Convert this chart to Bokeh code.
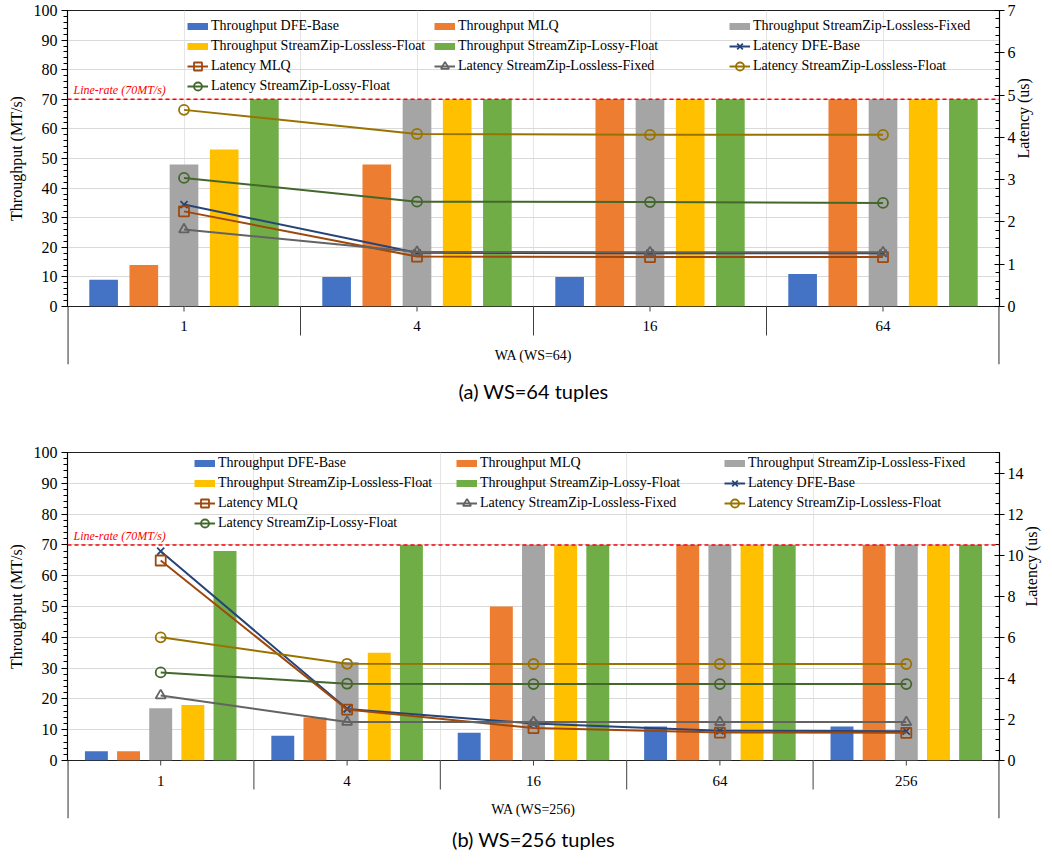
import math
from bokeh.plotting import figure
from bokeh.models import (Range1d, LinearAxis, FixedTicker, Span, Label, Legend,
                          LegendItem, Title)
from bokeh.core.properties import value
from bokeh.layouts import column
from bokeh.embed import file_html
from bokeh.resources import INLINE

# ---------------- data ----------------
series_names = ["DFE-Base", "MLQ", "StreamZip-Lossless-Fixed",
                "StreamZip-Lossless-Float", "StreamZip-Lossy-Float"]

# (a) WS=64
wa_a = ["1", "4", "16", "64"]
thr_a_dfe = [9, 10, 10, 11]
thr_a_mlq = [14, 48, 70, 70]
thr_a_fixed = [48, 70, 70, 70]
thr_a_llfloat = [53, 70, 70, 70]
thr_a_lossy = [70, 70, 70, 70]
lat_a_dfe = [2.41, 1.27, 1.26, 1.26]
lat_a_mlq = [2.25, 1.18, 1.17, 1.17]
lat_a_fixed = [1.82, 1.29, 1.28, 1.28]
lat_a_llfloat = [4.65, 4.08, 4.06, 4.06]
lat_a_lossy = [3.04, 2.48, 2.47, 2.45]

# (b) WS=256
wa_b = ["1", "4", "16", "64", "256"]
thr_b_dfe = [3, 8, 9, 11, 11]
thr_b_mlq = [3, 14, 50, 70, 70]
thr_b_fixed = [17, 32, 70, 70, 70]
thr_b_llfloat = [18, 35, 70, 70, 70]
thr_b_lossy = [68, 70, 70, 70, 70]
lat_b_dfe = [10.19, 2.51, 1.80, 1.45, 1.43]
lat_b_mlq = [9.74, 2.48, 1.58, 1.36, 1.35]
lat_b_fixed = [3.17, 1.88, 1.87, 1.87, 1.87]
lat_b_llfloat = [6.0, 4.71, 4.70, 4.70, 4.70]
lat_b_lossy = [4.29, 3.74, 3.72, 3.72, 3.72]

line_rate = 70

# ---------------- style ----------------
bar_colors = ["#4472C4", "#ED7D31", "#A5A5A5", "#FFC000", "#70AD47"]
line_colors = ["#264478", "#9E480E", "#636363", "#997300", "#43682B"]
markers = ["x", "square", "triangle", "circle", "circle"]
SERIF = "Liberation Serif"
W = 1051
MBL = 67
MBR = 52
SEP_H = 58   # height of the category-label strip below each chart
OVL = 9      # overlap so the "0" tick labels are not cut


def make_chart(wa, thr, lat, lat_max, lat_major, lat_minor,
               frame_h, leg_xs, leg_top, row_h, mbt):
    n = len(wa)
    xr = Range1d(0, n)
    p = figure(width=W, frame_height=frame_h,
               x_range=xr, y_range=Range1d(0, 100),
               x_axis_location=None,
               output_backend="svg", toolbar_location=None,
               min_border_left=MBL, min_border_right=MBR,
               min_border_top=mbt, min_border_bottom=OVL)
    p.extra_y_ranges = {"lat": Range1d(0, lat_max)}
    p.outline_line_color = "#202020"
    p.outline_line_width = 1.2
    p.background_fill_color = "white"
    p.border_fill_color = "white"
    p.ygrid.ticker = FixedTicker(ticks=list(range(10, 101, 10)))
    p.ygrid.grid_line_color = "#D9D9D9"
    p.ygrid.grid_line_width = 1

    cx = [i + 0.5 for i in range(n)]
    pitch = 0.1725
    bw = 0.123

    # bars
    for j in range(5):
        xs = [c + (j - 2) * pitch for c in cx]
        p.vbar(x=xs, top=thr[j], bottom=0, width=bw, fill_color=bar_colors[j],
               line_color=None)

    # latency lines
    lat_renderers = []
    for j in range(5):
        lr = p.line(cx, lat[j], y_range_name="lat", line_color=line_colors[j],
                    line_width=2)
        sr = p.scatter(cx, lat[j], y_range_name="lat", marker=markers[j],
                       size=10, line_color=line_colors[j], fill_color=None,
                       line_width=1.8)
        lat_renderers.append([lr, sr])

    # line-rate
    p.add_layout(Span(location=line_rate, dimension="width", line_color="#FF0000",
                      line_dash="4 3", line_width=1.5))
    p.add_layout(Label(x=0, y=line_rate, x_offset=6, y_offset=2,
                       text="Line-rate (70MT/s)", text_color="#FF0000",
                       text_font=SERIF, text_font_style="italic",
                       text_font_size="12px", text_baseline="bottom"))

    # left axis
    ya = p.yaxis[0]
    ya.ticker = FixedTicker(ticks=list(range(0, 101, 10)),
                            minor_ticks=list(range(0, 101, 2)))
    ya.major_tick_out = 6
    ya.major_tick_in = 0
    ya.minor_tick_out = 4
    ya.minor_tick_in = 0
    ya.axis_line_color = "black"
    ya.major_tick_line_color = "black"
    ya.minor_tick_line_color = "black"
    ya.major_label_text_font = SERIF
    ya.major_label_text_font_size = "16px"
    ya.major_label_text_color = "black"
    ya.major_label_standoff = 4
    ya.axis_label = "Throughput (MT/s)"
    ya.axis_label_text_font = SERIF
    ya.axis_label_text_font_size = "16px"
    ya.axis_label_text_font_style = "normal"
    ya.axis_label_text_color = "black"
    ya.axis_label_standoff = 6

    # right axis
    ra = LinearAxis(y_range_name="lat",
                    ticker=FixedTicker(ticks=lat_major, minor_ticks=lat_minor))
    ra.major_tick_out = 5
    ra.major_tick_in = 5
    ra.minor_tick_out = 0
    ra.minor_tick_in = 4
    ra.axis_line_color = "black"
    ra.major_tick_line_color = "black"
    ra.minor_tick_line_color = "black"
    ra.major_label_text_font = SERIF
    ra.major_label_text_font_size = "16px"
    ra.major_label_text_color = "black"
    ra.major_label_standoff = 3
    ra.axis_label = "Latency (us)"
    ra.axis_label_text_font = SERIF
    ra.axis_label_text_font_size = "16px"
    ra.axis_label_text_font_style = "normal"
    ra.axis_label_text_color = "black"
    ra.axis_label_standoff = 5
    ra.axis_label_orientation = math.pi / 2
    p.add_layout(ra, "right")

    # legend proxies for bars
    bar_proxies = []
    for j in range(5):
        bar_proxies.append(p.line(x=[0], y=[float("nan")], line_color=bar_colors[j],
                                  line_width=7))

    items = []
    for j in range(5):
        items.append(LegendItem(label="Throughput " + series_names[j],
                                renderers=[bar_proxies[j]]))
    for j in range(5):
        items.append(LegendItem(label="Latency " + series_names[j],
                                renderers=lat_renderers[j]))
    for k in range(3):
        col_items = items[k::3]
        nrows = len(col_items)
        y = frame_h - leg_top - nrows * row_h
        leg = Legend(items=col_items, location=(leg_xs[k], y),
                     orientation="vertical", padding=0, margin=0, spacing=0,
                     label_height=row_h, glyph_height=20, glyph_width=21,
                     label_standoff=3, background_fill_alpha=0,
                     border_line_alpha=0, label_text_font=SERIF,
                     label_text_font_size="14px", label_text_color="black")
        p.add_layout(leg)
    return p, xr


def make_category_strip(wa, xr, xlabel, caption, lab_dy, wa_dy, cap_standoff):
    """Multi-level category axis drawn below a chart (Excel style)."""
    n = len(wa)
    q = figure(width=W, frame_height=SEP_H, x_range=xr, y_range=Range1d(0, SEP_H),
               x_axis_location=None, y_axis_location=None,
               output_backend="svg", toolbar_location=None,
               min_border_left=MBL, min_border_right=MBR,
               min_border_top=0, min_border_bottom=0,
               margin=(-OVL, 0, 0, 0))
    q.outline_line_color = None
    q.background_fill_alpha = 0
    q.border_fill_alpha = 0
    q.grid.visible = False
    cx = [i + 0.5 for i in range(n)]
    inner = list(range(1, n))
    # group separators
    q.segment(x0=inner, y0=[SEP_H] * len(inner), x1=inner,
              y1=[SEP_H - 29] * len(inner), line_color="#404040", line_width=1)
    q.segment(x0=[0, n], y0=[SEP_H, SEP_H], x1=[0, n], y1=[0, 0],
              line_color="#404040", line_width=2.2)
    # small ticks at group centres
    q.segment(x0=cx, y0=[SEP_H] * n, x1=cx, y1=[SEP_H - 5] * n,
              line_color="#404040", line_width=1)
    # category labels
    q.text(x=cx, y=[SEP_H - lab_dy] * n, text=wa, text_align="center",
           text_baseline="middle", text_font=value(SERIF),
           text_font_size="15px", text_color="black")
    q.text(x=[n / 2], y=[SEP_H - wa_dy], text=[xlabel], text_align="center",
           text_baseline="middle", text_font=value(SERIF),
           text_font_size="14px", text_color="black")
    q.add_layout(Title(text=caption, align="center", text_font="Lato",
                       text_font_size="20px", text_font_style="normal",
                       text_color="black", standoff=cap_standoff), "below")
    return q


pa, xra = make_chart(wa_a,
                     [thr_a_dfe, thr_a_mlq, thr_a_fixed, thr_a_llfloat, thr_a_lossy],
                     [lat_a_dfe, lat_a_mlq, lat_a_fixed, lat_a_llfloat, lat_a_lossy],
                     7, list(range(0, 8)), [i * 0.2 for i in range(0, 36)],
                     296, [120, 367, 662], 6, 20, 10)
qa = make_category_strip(wa_a, xra, "WA (WS=64)", "(a) WS=64 tuples", 19, 49, 24)

pb, xrb = make_chart(wa_b,
                     [thr_b_dfe, thr_b_mlq, thr_b_fixed, thr_b_llfloat, thr_b_lossy],
                     [lat_b_dfe, lat_b_mlq, lat_b_fixed, lat_b_llfloat, lat_b_lossy],
                     15, list(range(0, 15, 2)), [i * 0.5 for i in range(0, 31)],
                     308, [127, 389, 657], 1, 20, 38)
qb = make_category_strip(wa_b, xrb, "WA (WS=256)", "(b) WS=256 tuples", 20, 49, 12)

layout = column(pa, qa, pb, qb, spacing=0)
open("out.html", "w").write(file_html(layout, INLINE))
